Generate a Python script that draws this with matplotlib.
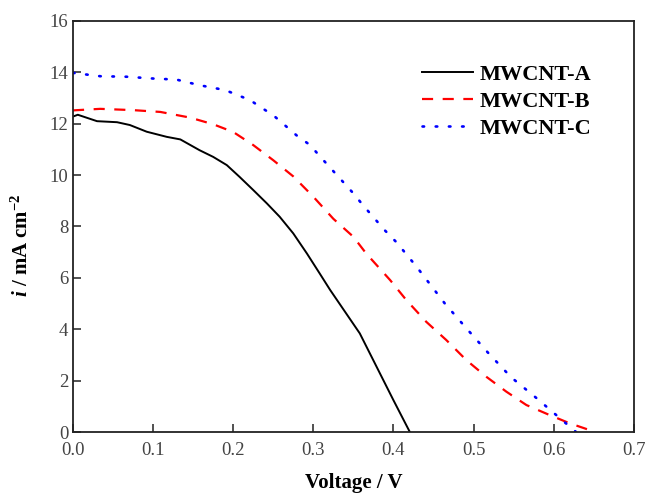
import matplotlib
matplotlib.use("Agg")
import matplotlib.pyplot as plt

# J-V curves for the three MWCNT counter electrodes
v_a = [0.0, 0.006, 0.03, 0.055, 0.071, 0.092, 0.117, 0.134, 0.158, 0.175, 0.192,
       0.208, 0.225, 0.242, 0.258, 0.275, 0.292, 0.308, 0.321, 0.358, 0.40, 0.4205]
i_a = [12.28, 12.35, 12.1, 12.06, 11.95, 11.69, 11.49, 11.39, 10.97, 10.71, 10.39,
       9.93, 9.42, 8.9, 8.38, 7.73, 6.95, 6.17, 5.53, 3.84, 1.24, 0.0]

v_b = [0.0, 0.034, 0.075, 0.109, 0.146, 0.175, 0.2, 0.225, 0.25, 0.275, 0.3,
       0.325, 0.35, 0.366, 0.396, 0.416, 0.441, 0.466, 0.491, 0.516, 0.541,
       0.566, 0.595, 0.62, 0.652]
i_b = [12.52, 12.58, 12.53, 12.46, 12.24, 11.98, 11.68, 11.17, 10.58, 9.95, 9.16,
       8.3, 7.6, 6.95, 5.91, 5.14, 4.29, 3.58, 2.8, 2.15, 1.57,
       1.05, 0.66, 0.34, 0.0]

v_c = [0.0, 0.034, 0.067, 0.1, 0.129, 0.158, 0.19, 0.221, 0.237, 0.25, 0.279,
       0.296, 0.308, 0.337, 0.35, 0.362, 0.389, 0.404, 0.429, 0.464, 0.491,
       0.518, 0.547, 0.579, 0.595, 0.628]
i_c = [13.98, 13.85, 13.83, 13.76, 13.72, 13.5, 13.31, 12.92, 12.59, 12.33, 11.55,
       11.17, 10.74, 9.74, 9.29, 8.83, 7.86, 7.38, 6.43, 5.01, 4.04,
       3.09, 2.13, 1.31, 0.88, 0.0]

labels = ["MWCNT-A", "MWCNT-B", "MWCNT-C"]
x_ticks = [0.0, 0.1, 0.2, 0.3, 0.4, 0.5, 0.6, 0.7]
y_ticks = [0, 2, 4, 6, 8, 10, 12, 14, 16]

plt.rcParams["font.family"] = ["Liberation Serif", "DejaVu Serif"]
plt.rcParams["mathtext.fontset"] = "custom"
plt.rcParams["mathtext.rm"] = "Liberation Serif:bold"
plt.rcParams["mathtext.it"] = "Liberation Serif:italic:bold"
plt.rcParams["mathtext.bf"] = "Liberation Serif:bold"

fig = plt.figure(figsize=(6.46, 4.94), dpi=100)
ax = fig.add_axes([0.113, 0.1255, 0.868, 0.832])

ax.plot(v_a, i_a, color="black", lw=1.4, label=labels[0])
ax.plot(v_b, i_b, color="red", lw=1.6, linestyle=(0, (5.0, 4.3)), label=labels[1])
ax.plot(v_c, i_c, color="blue", lw=1.9, linestyle=(0, (0.6, 4.4)),
        dash_capstyle="round", label=labels[2])

ax.set_xlim(0, 0.7)
ax.set_ylim(0, 16)
ax.set_xticks(x_ticks)
ax.set_yticks(y_ticks)
ax.set_xticklabels(["%.1f" % t for t in x_ticks])
ax.tick_params(direction="in", length=6, width=1.2, labelsize=13.5,
               colors="#333333", labelcolor="#444444")
ax.tick_params(axis="x", pad=7)
for s in ax.spines.values():
    s.set_linewidth(1.3)
    s.set_color("#222222")

ax.set_xlabel("Voltage / V", fontsize=15, fontweight="bold", labelpad=10)
ax.set_ylabel(r"$i$ / mA cm$^{-2}$", fontsize=15, fontweight="bold")
ax.yaxis.set_label_coords(-0.072, 0.455)

ax.legend(loc="upper left", bbox_to_anchor=(0.622, 0.895), frameon=False,
          borderaxespad=0, borderpad=0,
          prop={"size": 16, "weight": "bold"}, handlelength=2.3,
          handletextpad=0.3, labelspacing=0.3)

fig.savefig("out.png", dpi=100)
